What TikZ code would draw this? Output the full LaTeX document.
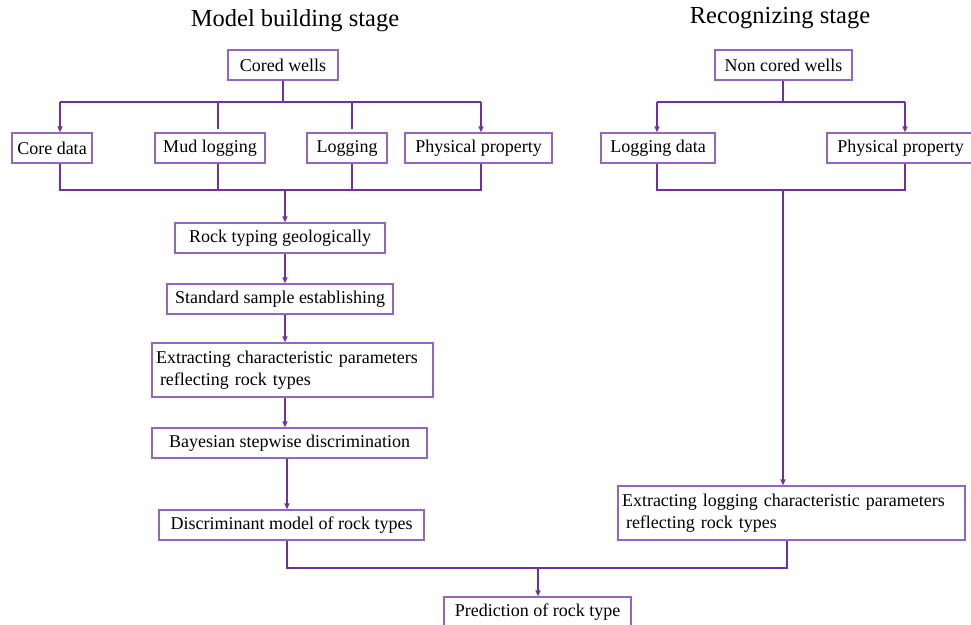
\documentclass[tikz,border=0pt]{standalone}
\usepackage{fontspec}
\setmainfont{Liberation Serif}
\usetikzlibrary{arrows.meta,calc}
\definecolor{linec}{HTML}{7030A0}
\definecolor{boxc}{HTML}{9466C0}
\begin{document}
\begin{tikzpicture}[x=1pt,y=-1pt,
  box/.style={draw=boxc,line width=1.3pt,inner sep=0pt,minimum height=30pt,font=\fontsize{18}{21}\selectfont},
  tbox/.style={box,minimum height=54pt,align=left,font=\fontsize{18}{22}\selectfont},
  ln/.style={draw=linec,line width=1.4pt},
  arr/.style={ln,-{Triangle[length=6pt,width=5pt]}},
  title/.style={font=\fontsize{24.5}{28}\selectfont,inner sep=0pt}]
\useasboundingbox (0,0) rectangle (971,624);
% titles
\node[title] (t1) at (295,21) {Model building stage};
\node[title] (t2) at (780,18) {Recognizing stage};
% left column
\node[box,minimum width=110pt] (cw) at (283,65) {Cored wells};
\node[box,minimum width=80pt] (core) at (52,148) {Core data};
\node[box,minimum width=110pt] (mud) at (210,148) {Mud logging};
\node[box,minimum width=80pt] (log) at (347,148) {Logging};
\node[box,minimum width=147pt] (phys) at (478.5,148) {Physical property};
\node[box,minimum width=210pt] (rt) at (280,238) {Rock typing geologically};
\node[box,minimum width=226pt] (ss) at (280,299) {Standard sample establishing};
\node[tbox,minimum width=281pt,text width=273pt] (ex) at (292.5,370) {Extracting characteristic parameters\\\hspace*{4pt}reflecting rock types};
\node[box,minimum width=275pt] (bs) at (289.5,443) {Bayesian stepwise discrimination};
\node[box,minimum width=265pt] (dm) at (291.5,525) {Discriminant model of rock types};
% right column
\node[box,minimum width=137pt] (ncw) at (783.5,65) {Non cored wells};
\node[box,minimum width=114pt] (ld) at (658,148) {Logging data};
\node[box,minimum width=147pt] (pp) at (900.5,148) {Physical property};
\node[tbox,minimum width=347pt,text width=339pt] (exl) at (791.5,513) {Extracting logging characteristic parameters\\\hspace*{4pt}reflecting rock types};
\node[box,minimum width=187pt] (pr) at (537.5,612) {Prediction of rock type};
% bus coordinates left
\coordinate (lt) at (283,102);
\coordinate (lb) at (285,190);
\coordinate (xa) at (60,0);
\coordinate (xb) at (218,0);
\coordinate (xc) at (352,0);
\coordinate (xd) at (481,0);
\draw[ln] (cw.south) -- (lt);
\draw[ln] (lt -| xa) -- (lt -| xd);
\draw[arr] (lt -| xa) -- (core.north -| xa);
\draw[ln] (lt -| xb) -- ($(mud.north -| xb)+(0,-3)$);
\draw[ln] (lt -| xc) -- ($(log.north -| xc)+(0,-3)$);
\draw[arr] (lt -| xd) -- (phys.north -| xd);
\draw[ln] (core.south -| xa) -- (lb -| xa) -- (lb -| xd) -- (phys.south -| xd);
\draw[ln] (mud.south -| xb) -- (lb -| xb);
\draw[ln] (log.south -| xc) -- (lb -| xc);
\draw[arr] (lb) -- (rt.north -| lb);
\draw[arr] (rt.south -| lb) -- (ss.north -| lb);
\draw[arr] (ss.south -| lb) -- (ex.north -| lb);
\coordinate (xm) at (287,0);
\draw[arr] (ex.south -| lb) -- (bs.north -| lb);
\draw[arr] (bs.south -| xm) -- (dm.north -| xm);
% right buses
\coordinate (rt0) at (783,102);
\coordinate (rb) at (783,190);
\coordinate (xe) at (657,0);
\coordinate (xf) at (905,0);
\draw[ln] (ncw.south -| rt0) -- (rt0);
\draw[ln] (rt0 -| xe) -- (rt0 -| xf);
\draw[arr] (rt0 -| xe) -- (ld.north -| xe);
\draw[arr] (rt0 -| xf) -- (pp.north -| xf);
\draw[ln] (ld.south -| xe) -- (rb -| xe) -- (rb -| xf) -- (pp.south -| xf);
\draw[arr] (rb) -- (exl.north -| rb);
% bottom bus
\coordinate (bb) at (538,568);
\coordinate (xg) at (787,0);
\draw[ln] (dm.south -| xm) -- (bb -| xm) -- (bb -| xg) -- (exl.south -| xg);
\draw[arr] (bb) -- (pr.north -| bb);
\end{tikzpicture}
\end{document}
